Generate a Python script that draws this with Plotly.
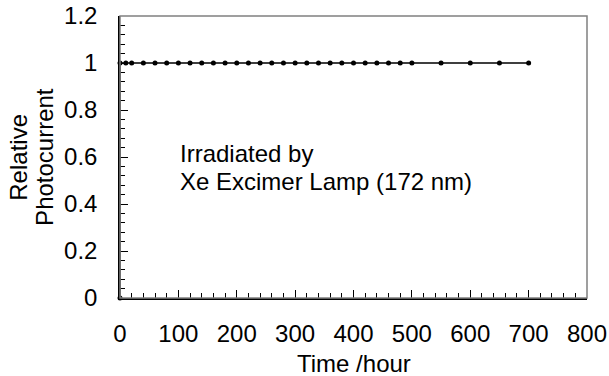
import plotly.graph_objects as go

# Data
time_hours = [0, 0, 10, 20, 40, 60, 80, 100, 120, 140, 160, 180, 200, 220, 240, 260, 280,
              300, 320, 340, 360, 380, 400, 420, 440, 460, 480, 500, 550, 600, 650, 700]
rel_photocurrent = [0, 1] + [1] * 30

x_ticks = [0, 100, 200, 300, 400, 500, 600, 700, 800]
y_ticks = [0, 0.2, 0.4, 0.6, 0.8, 1, 1.2]
y_tick_labels = ["0", "0.2", "0.4", "0.6", "0.8", "1", "1.2"]

FONT = "Liberation Sans, Arial, sans-serif"
FS = 24

fig = go.Figure()
fig.add_trace(go.Scatter(
    x=time_hours, y=rel_photocurrent, mode="lines+markers",
    line=dict(color="black", width=1.5),
    marker=dict(color="black", size=5),
    showlegend=False, cliponaxis=False,
))

# in-plot note (two lines)
fig.add_annotation(x=0.124, y=0.514, xref="paper", yref="paper", xanchor="left", yanchor="middle",
                   text="Irradiated by", showarrow=False, font=dict(family=FONT, size=FS, color="black"))
fig.add_annotation(x=0.124, y=0.413, xref="paper", yref="paper", xanchor="left", yanchor="middle",
                   text="Xe Excimer Lamp (172 nm)", showarrow=False, font=dict(family=FONT, size=FS, color="black"))

# y axis title (two lines)
fig.add_annotation(x=-0.219, y=0.5, xref="paper", yref="paper", xanchor="center", yanchor="middle",
                   text="Relative", textangle=-90, showarrow=False, font=dict(family=FONT, size=FS, color="black"))
fig.add_annotation(x=-0.163, y=0.5, xref="paper", yref="paper", xanchor="center", yanchor="middle",
                   text="Photocurrent", textangle=-90, showarrow=False, font=dict(family=FONT, size=FS, color="black"))

# x axis title
fig.add_annotation(x=0.5, y=-0.232, xref="paper", yref="paper", xanchor="center", yanchor="middle",
                   text="Time /hour", showarrow=False, font=dict(family=FONT, size=FS, color="black"))

fig.update_layout(
    width=609, height=376,
    margin=dict(l=120, r=22, t=16, b=78),
    paper_bgcolor="white", plot_bgcolor="white",
    font=dict(family=FONT, size=FS, color="black"),
    shapes=[dict(type="rect", xref="paper", yref="paper", x0=0, x1=1, y0=0, y1=1,
                 line=dict(color="#808080", width=1.5), layer="above")],
)
fig.update_xaxes(
    range=[0, 800], tickvals=x_ticks, ticks="inside", ticklen=8, tickcolor="black", tickwidth=1.2,
    showline=True, linecolor="black", linewidth=1.5, showgrid=False, zeroline=False,
    minor=dict(dtick=20, ticks="inside", ticklen=5, tickcolor="black", tickwidth=1),
    ticklabelstandoff=13, automargin=False, ticklabeloverflow="allow",
)
fig.update_yaxes(
    range=[0, 1.2], tickvals=y_ticks, ticktext=y_tick_labels, ticks="inside", ticklen=8,
    tickcolor="black", tickwidth=1.2, showline=True, linecolor="black", linewidth=1.5,
    showgrid=False, zeroline=False,
    minor=dict(dtick=0.04, ticks="inside", ticklen=5, tickcolor="black", tickwidth=1),
    ticklabelstandoff=16, automargin=False, ticklabeloverflow="allow",
)

fig.write_html("out.html", config={"displayModeBar": False},
               post_script="document.body.style.margin='0';")
